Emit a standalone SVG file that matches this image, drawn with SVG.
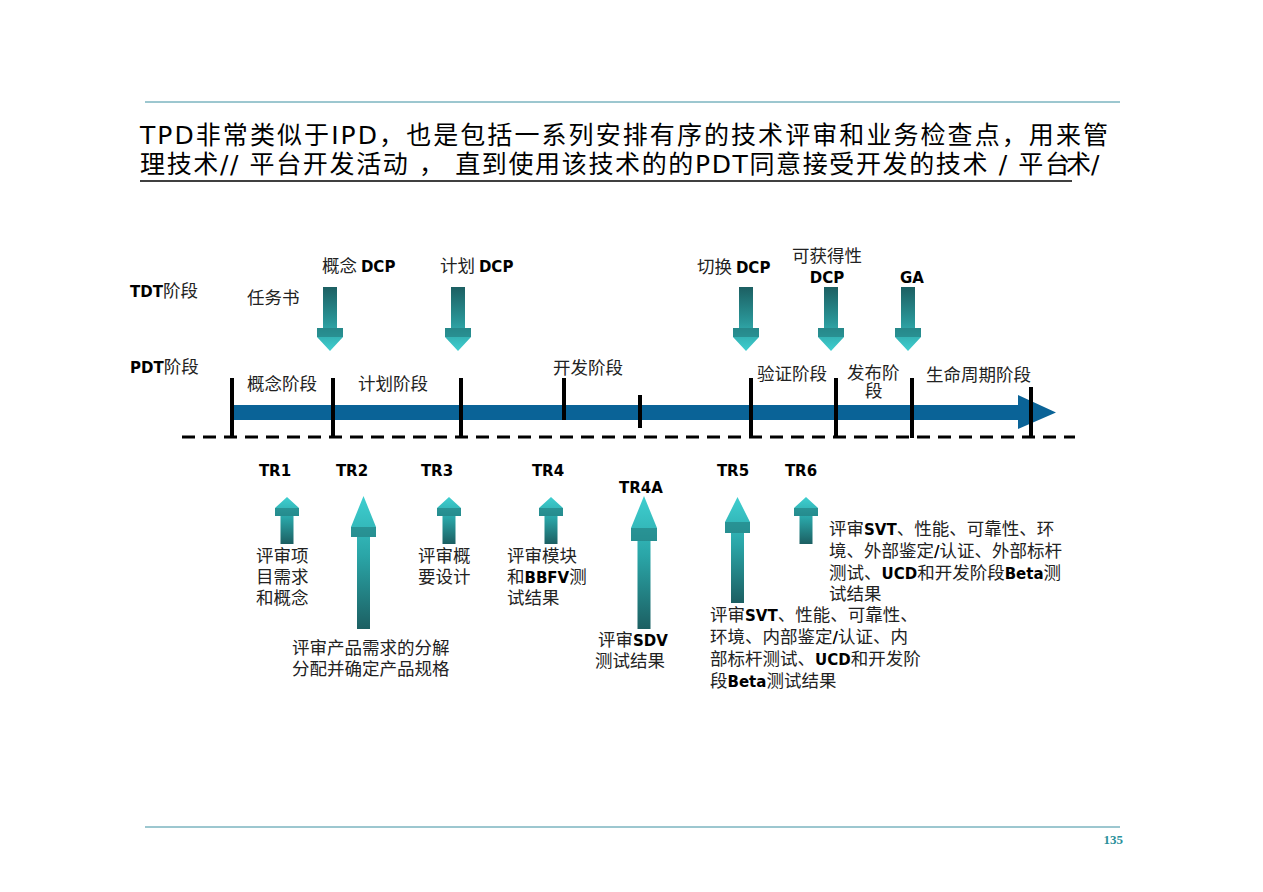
<svg xmlns="http://www.w3.org/2000/svg" width="1263" height="892" viewBox="0 0 1263 892">
<defs>
<linearGradient id="gDown" x1="0" y1="0" x2="0" y2="1">
<stop offset="0" stop-color="#1c5f62"/>
<stop offset="0.55" stop-color="#2a9799"/>
<stop offset="1" stop-color="#3fcfd0"/>
</linearGradient>
<linearGradient id="gUp" x1="0" y1="0" x2="0" y2="1">
<stop offset="0" stop-color="#3fcfd0"/>
<stop offset="0.45" stop-color="#2aa5a7"/>
<stop offset="1" stop-color="#1c5f62"/>
</linearGradient>
<style>
.t{font-family:'DejaVu Sans','Noto Sans CJK SC',sans-serif;fill:#000}
.cjk{font-family:'Noto Sans CJK SC','DejaVu Sans',sans-serif;fill:#222;font-size:17.5px}
.lat{font-family:'DejaVu Sans',sans-serif;font-weight:bold;font-size:15px;fill:#000}
.tr{font-family:'DejaVu Sans',sans-serif;font-weight:bold;font-size:15px;fill:#000}
.down{fill:url(#gDown)}
.up{fill:url(#gUp)}
.box{fill:#1d6d70;opacity:0.5}
.tick{stroke:#000;stroke-width:4}
.rule{stroke:#3a8fa0;stroke-width:1}
</style>
</defs>

<g id="frame">
<line class="rule" x1="145" y1="102" x2="1120" y2="102"/>
<line class="rule" x1="145" y1="827" x2="1120" y2="827"/>
<text x="1123" y="844" text-anchor="end" style="font-family:'Liberation Serif',serif;font-weight:bold;font-size:13px;fill:#2a8f9a">135</text>
</g>

<g id="title">
<text class="t" x="140" y="144" font-size="25" textLength="968" lengthAdjust="spacing">TPD非常类似于IPD，也是包括一系列安排有序的技术评审和业务检查点，用来管</text>
<text class="t" x="140" y="173" font-size="25" textLength="930" lengthAdjust="spacing">理技术// 平台开发活动 ， 直到使用该技术的的PDT同意接受开发的技术 / 平台</text>
<text class="t" x="1066" y="173" font-size="25">术/</text>
<line x1="140" y1="181" x2="1072" y2="181" stroke="#000" stroke-width="1.5"/>
</g>

<g id="row-labels">
<text x="130" y="297"><tspan class="tr" font-size="16">TDT</tspan><tspan class="cjk">阶段</tspan></text>
<text x="130" y="373"><tspan class="tr" font-size="16">PDT</tspan><tspan class="cjk">阶段</tspan></text>
<text class="cjk" x="247" y="304">任务书</text>
</g>

<g id="timeline">
<path d="M232,405 H1018 V395 L1056,412.5 L1018,429 V420 H232 Z" fill="#0a6397"/>
<line x1="182" y1="437" x2="1075" y2="437" stroke="#000" stroke-width="3" stroke-dasharray="13 8"/>
<line class="tick" x1="232" y1="378" x2="232" y2="438"/>
<line class="tick" x1="333" y1="378" x2="333" y2="438"/>
<line class="tick" x1="461" y1="378" x2="461" y2="438"/>
<line class="tick" x1="564" y1="378" x2="564" y2="420"/>
<line class="tick" x1="640" y1="395" x2="640" y2="428"/>
<line class="tick" x1="751" y1="378" x2="751" y2="438"/>
<line class="tick" x1="836" y1="378" x2="836" y2="438"/>
<line class="tick" x1="912" y1="378" x2="912" y2="438"/>
<line class="tick" x1="1031" y1="387" x2="1031" y2="438"/>
</g>

<g id="phases">
<text class="cjk" x="247" y="390">概念阶段</text>
<text class="cjk" x="358" y="390">计划阶段</text>
<text class="cjk" x="553" y="374">开发阶段</text>
<text class="cjk" x="757" y="380">验证阶段</text>
<text class="cjk" x="847" y="379">发布阶</text>
<text class="cjk" x="865" y="397">段</text>
<text class="cjk" x="926" y="381">生命周期阶段</text>
</g>

<g id="dcp-concept">
<text x="322" y="272"><tspan class="cjk">概念 </tspan><tspan class="lat">DCP</tspan></text>
<path class="down" d="M323,287 H337 V328 H343 V337 L330,351 L317,337 V328 H323 Z"/>
<rect class="box" x="317" y="328" width="26" height="9"/>
</g>
<g id="dcp-plan">
<text x="440" y="272"><tspan class="cjk">计划 </tspan><tspan class="lat">DCP</tspan></text>
<path class="down" d="M451,287 H465 V328 H471 V337 L458,351 L445,337 V328 H451 Z"/>
<rect class="box" x="445" y="328" width="26" height="9"/>
</g>
<g id="dcp-switch">
<text x="697" y="273"><tspan class="cjk">切换 </tspan><tspan class="lat">DCP</tspan></text>
<path class="down" d="M739,287 H753 V328 H759 V337 L746,351 L733,337 V328 H739 Z"/>
<rect class="box" x="733" y="328" width="26" height="9"/>
</g>
<g id="dcp-avail">
<text class="cjk" x="792" y="262">可获得性</text>
<text class="lat" x="827" y="283" text-anchor="middle">DCP</text>
<path class="down" d="M824,287 H838 V328 H844 V337 L831,351 L818,337 V328 H824 Z"/>
<rect class="box" x="818" y="328" width="26" height="9"/>
</g>
<g id="ga">
<text class="lat" x="912" y="283" text-anchor="middle">GA</text>
<path class="down" d="M901,287 H915 V328 H921 V337 L908,351 L895,337 V328 H901 Z"/>
<rect class="box" x="895" y="328" width="26" height="9"/>
</g>

<g id="tr1">
<text class="tr" x="275" y="476" text-anchor="middle">TR1</text>
<path class="up" d="M287,497 L299,508 V516 H293.5 V544 H280.5 V516 H275 V508 Z"/>
<rect class="box" x="275" y="508" width="24" height="8"/>
<text class="cjk" x="256" y="562">评审项</text>
<text class="cjk" x="256" y="583">目需求</text>
<text class="cjk" x="256" y="604">和概念</text>
</g>
<g id="tr2">
<text class="tr" x="352" y="476" text-anchor="middle">TR2</text>
<path class="up" d="M363.5,496 L376,527 V537 H370 V629 H357 V537 H351 V527 Z"/>
<rect class="box" x="351" y="527" width="25" height="10"/>
<text class="cjk" x="292" y="654">评审产品需求的分解</text>
<text class="cjk" x="292" y="675">分配并确定产品规格</text>
</g>
<g id="tr3">
<text class="tr" x="437" y="476" text-anchor="middle">TR3</text>
<path class="up" d="M449,497 L461,508 V516 H455.5 V544 H442.5 V516 H437 V508 Z"/>
<rect class="box" x="437" y="508" width="24" height="8"/>
<text class="cjk" x="418" y="562">评审概</text>
<text class="cjk" x="418" y="583">要设计</text>
</g>
<g id="tr4">
<text class="tr" x="548" y="476" text-anchor="middle">TR4</text>
<path class="up" d="M551,497 L563,508 V516 H557.5 V544 H544.5 V516 H539 V508 Z"/>
<rect class="box" x="539" y="508" width="24" height="8"/>
<text class="cjk" x="507" y="562">评审模块</text>
<text x="507" y="583"><tspan class="cjk">和</tspan><tspan class="lat">BBFV</tspan><tspan class="cjk">测</tspan></text>
<text class="cjk" x="507" y="604">试结果</text>
</g>
<g id="tr4a">
<text class="tr" x="641" y="493" text-anchor="middle">TR4A</text>
<path class="up" d="M644,496 L657,528 V541 H650.5 V629 H637.5 V541 H631 V528 Z"/>
<rect class="box" x="631" y="528" width="26" height="13"/>
<text x="598" y="646"><tspan class="cjk">评审</tspan><tspan class="lat">SDV</tspan></text>
<text class="cjk" x="595" y="667">测试结果</text>
</g>
<g id="tr5">
<text class="tr" x="733" y="476" text-anchor="middle">TR5</text>
<path class="up" d="M737.5,497 L750,522 V533 H744 V603 H731 V533 H725 V522 Z"/>
<rect class="box" x="725" y="522" width="25" height="11"/>
<text x="710" y="621"><tspan class="cjk">评审</tspan><tspan class="lat">SVT</tspan><tspan class="cjk">、性能、可靠性、</tspan></text>
<text x="710" y="643"><tspan class="cjk">环境、内部鉴定</tspan><tspan class="lat">/</tspan><tspan class="cjk">认证、内</tspan></text>
<text x="710" y="665"><tspan class="cjk">部标杆测试、</tspan><tspan class="lat">UCD</tspan><tspan class="cjk">和开发阶</tspan></text>
<text x="710" y="687"><tspan class="cjk">段</tspan><tspan class="lat">Beta</tspan><tspan class="cjk">测试结果</tspan></text>
</g>
<g id="tr6">
<text class="tr" x="801" y="476" text-anchor="middle">TR6</text>
<path class="up" d="M806,497 L818,508 V516 H812.5 V544 H799.5 V516 H794 V508 Z"/>
<rect class="box" x="794" y="508" width="24" height="8"/>
<text x="829" y="535"><tspan class="cjk">评审</tspan><tspan class="lat">SVT</tspan><tspan class="cjk">、性能、可靠性、环</tspan></text>
<text x="829" y="557"><tspan class="cjk">境、外部鉴定</tspan><tspan class="lat">/</tspan><tspan class="cjk">认证、外部标杆</tspan></text>
<text x="829" y="579"><tspan class="cjk">测试、</tspan><tspan class="lat">UCD</tspan><tspan class="cjk">和开发阶段</tspan><tspan class="lat">Beta</tspan><tspan class="cjk">测</tspan></text>
<text class="cjk" x="829" y="600">试结果</text>
</g>
</svg>
